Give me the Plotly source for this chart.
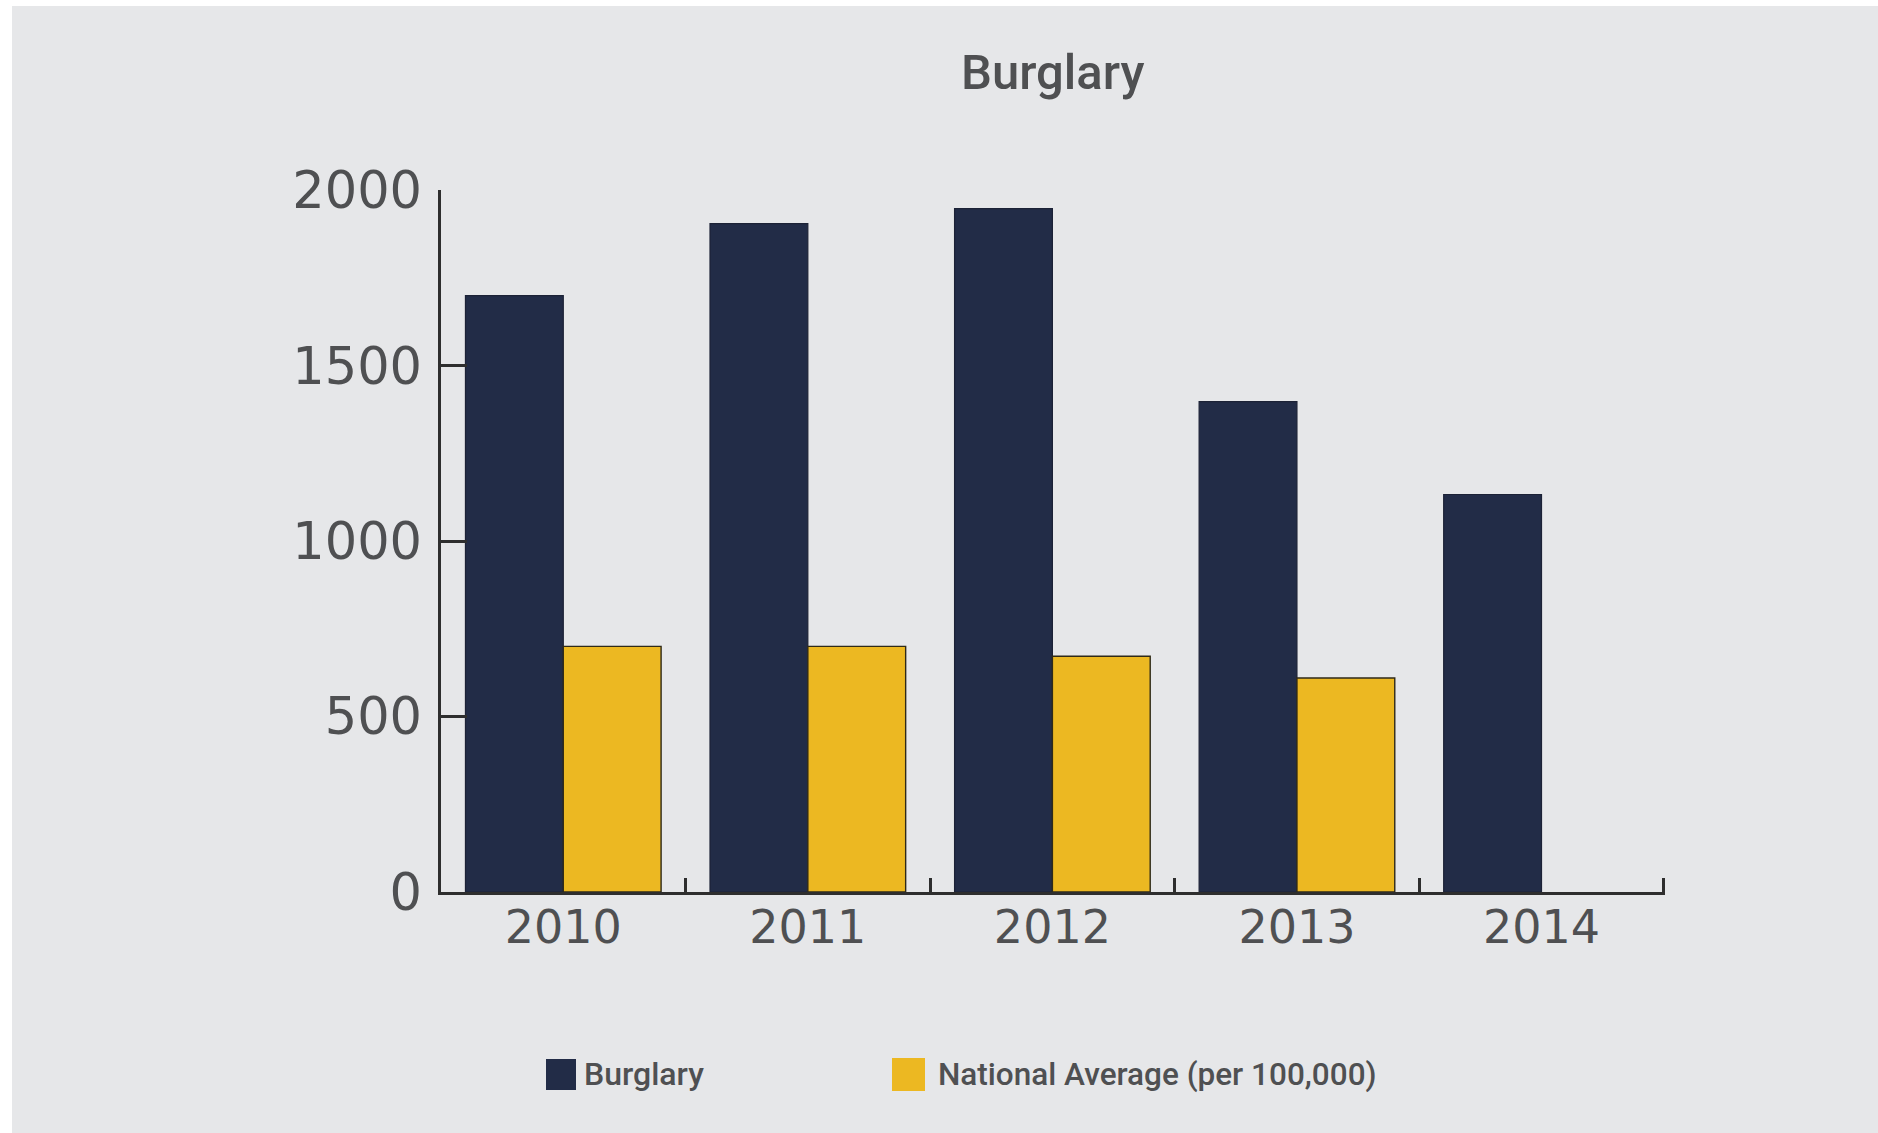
import plotly.graph_objects as go

years = ["2010", "2011", "2012", "2013", "2014"]
burglary = [1700, 1905, 1948, 1398, 1133]
national_avg = [700, 700, 672, 610, None]
y_ticks = [0, 500, 1000, 1500, 2000]

NAVY = "#222c47"
GOLD = "#ecb822"
BG = "#e6e7e9"
TXT = "#4f5052"

W, H = 1878, 1133
L, R, T, B = 441, 213, 190, 241
PW, PH = W - L - R, H - T - B

def px(x):
    return (x - L) / PW

def py(y):
    return (H - B - y) / PH

fig = go.Figure()
fig.add_trace(go.Bar(x=years, y=burglary, name="Burglary",
                     marker=dict(color=NAVY, line=dict(color="#1c2236", width=1.2)),
                     showlegend=False))
fig.add_trace(go.Bar(x=years, y=national_avg, name="National Average (per 100,000)",
                     marker=dict(color=GOLD, line=dict(color="#2f2a18", width=1.4)),
                     showlegend=False))

shapes = [
    dict(type="rect", xref="paper", yref="paper", x0=px(0), x1=px(W), y0=py(6), y1=py(0),
         fillcolor="white", line=dict(width=0), layer="below"),
    dict(type="rect", xref="paper", yref="paper", x0=px(0), x1=px(12), y0=py(H), y1=py(0),
         fillcolor="white", line=dict(width=0), layer="below"),
    dict(type="rect", xref="paper", yref="paper", x0=px(546), x1=px(576), y0=py(1090), y1=py(1059),
         fillcolor=NAVY, line=dict(width=0)),
    dict(type="rect", xref="paper", yref="paper", x0=px(892), x1=px(925), y0=py(1091), y1=py(1058),
         fillcolor=GOLD, line=dict(width=0)),
]

annotations = [
    dict(text="Burglary", xref="paper", yref="paper", x=px(582), y=py(1074),
         xanchor="left", yanchor="middle", showarrow=False,
         font=dict(family="Roboto, sans-serif", size=32, color=TXT, weight=500)),
    dict(text="National Average (per 100,000)", xref="paper", yref="paper", x=px(936), y=py(1074),
         xanchor="left", yanchor="middle", showarrow=False,
         font=dict(family="Roboto, sans-serif", size=31.5, color=TXT, weight=500)),
    dict(text="Burglary", xref="paper", yref="paper", x=0.5, y=py(72),
         xanchor="center", yanchor="middle", showarrow=False,
         font=dict(family="Roboto, sans-serif", size=49, color=TXT, weight=500)),
]

fig.update_layout(
    width=W, height=H,
    margin=dict(l=L, r=R, t=T, b=B),
    paper_bgcolor=BG, plot_bgcolor=BG,
    barmode="group", bargap=0.2, bargroupgap=0,
    shapes=shapes, annotations=annotations,
    showlegend=False,
    xaxis=dict(type="category", categoryorder="array", categoryarray=years,
               range=[-0.5, 4.505],
               showline=True, linecolor="#2e2e2e", linewidth=2.5,
               ticks="inside", tickson="boundaries", ticklen=14, tickwidth=2.5, tickcolor="#2e2e2e",
               showgrid=False, zeroline=False, ticklabelstandoff=-7,
               tickfont=dict(family="DejaVu Sans", size=46, color=TXT),
               layer="below traces"),
    yaxis=dict(range=[0, 2001], tickvals=y_ticks, ticktext=[str(v) for v in y_ticks],
               showline=True, linecolor="#2e2e2e", linewidth=2.5,
               ticks="inside", ticklen=26, tickwidth=2.5, tickcolor="#2e2e2e",
               showgrid=False, zeroline=False, ticklabelstandoff=6,
               tickfont=dict(family="DejaVu Sans", size=51, color=TXT),
               layer="above traces"),
)

fig.write_html("out.html", config={"displayModeBar": False},
               post_script="document.body.style.margin='0';document.body.style.overflow='hidden';")
